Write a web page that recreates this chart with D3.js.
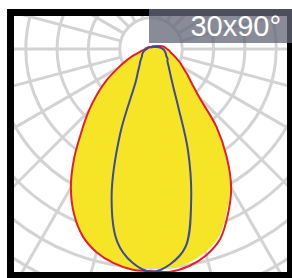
<!DOCTYPE html>
<html>
<head>
<meta charset="utf-8">
<script src="https://cdn.jsdelivr.net/npm/d3@7"></script>
<style>
    html, body { margin: 0; padding: 0; background: #fff; }
    svg { display: block; }
</style>
</head>
<body>
<div id="chart"></div>
<script>
// angles from nadir (deg), same for both half planes
const gammas = [0, 5, 10, 15, 20, 25, 30, 35, 40, 45, 50, 55, 60, 65, 70, 75, 80, 85, 90, 100, 110, 120, 135, 150, 165, 180];

// wide distribution (red outline, yellow fill)
const redLeft  = [710, 707, 694, 672, 637, 582, 512, 429, 346, 282, 224, 173, 122, 86, 58, 38, 29, 22, 19, 16, 13, 10, 8, 6, 6, 6];
const redRight = [710, 714, 704, 682, 646, 582, 512, 422, 326, 218, 170, 141, 118, 102, 86, 74, 64, 58, 51, 42, 29, 19, 13, 10, 6, 6];

// narrow distribution (blue)
const blueLeft  = [712, 685, 624, 486, 288, 115, 83, 64, 54, 45, 38, 35, 32, 29, 26, 22, 19, 16, 13, 11, 10, 10, 8, 6, 6, 6];
const blueRight = [712, 691, 640, 496, 346, 208, 144, 112, 93, 80, 70, 64, 61, 54, 51, 48, 45, 42, 38, 29, 19, 13, 10, 6, 6, 6];

// grid
const ringValues = [100, 200, 300, 400, 500, 600, 700, 800, 900];
const spokeAngles = [0, 15, 30, 45, 60, 75, 90, 105, 120, 135, 150, 165, 180, 195, 210, 225, 240, 255, 270, 285, 300, 315, 330, 345];

const beamLabel = "30x90°";

class PolarChart {
    constructor(_parentElement) {
        this.parentElement = _parentElement;
        this.initVis();
    }

    initVis() {
        const vis = this;

        vis.width = 292;
        vis.height = 278;
        vis.cx = 151;
        vis.cy = 49;

        vis.svg = d3.select(vis.parentElement).append("svg")
            .attr("width", vis.width)
            .attr("height", vis.height);

        vis.svg.append("clipPath")
            .attr("id", "frame-clip")
            .append("rect")
            .attr("x", 14).attr("y", 16)
            .attr("width", 273).attr("height", 256);

        vis.r = d3.scaleLinear()
            .domain([0, 100])
            .range([0, 31.3]);

        vis.plot = vis.svg.append("g")
            .attr("clip-path", "url(#frame-clip)")
            .append("g")
            .attr("transform", `translate(${vis.cx},${vis.cy})`);

        vis.drawGrid();
        vis.drawCurves();
        vis.drawFrame();
    }

    drawGrid() {
        const vis = this;
        const grid = vis.plot.append("g")
            .attr("fill", "none")
            .attr("stroke", "#d3d3d3")
            .attr("stroke-width", 3);

        grid.selectAll(".ring")
            .data(ringValues)
            .enter().append("circle")
            .attr("class", "ring")
            .attr("r", d => vis.r(d));

        const r0 = vis.r(ringValues[0]);
        const r1 = vis.r(ringValues[ringValues.length - 1]);
        grid.selectAll(".spoke")
            .data(spokeAngles)
            .enter().append("line")
            .attr("class", "spoke")
            .attr("x1", d => r0 * Math.sin(d * Math.PI / 180))
            .attr("y1", d => r0 * Math.cos(d * Math.PI / 180))
            .attr("x2", d => r1 * Math.sin(d * Math.PI / 180))
            .attr("y2", d => r1 * Math.cos(d * Math.PI / 180));
    }

    // build closed list of {a, v} from the two half planes
    curvePoints(left, right, k) {
        const pts = [];
        for (let i = gammas.length - 1; i >= 0; i--) {
            pts.push({ a: (180 - gammas[i]) * Math.PI / 180, v: right[i] * k });
        }
        for (let i = 1; i < gammas.length - 1; i++) {
            pts.push({ a: (180 + gammas[i]) * Math.PI / 180, v: left[i] });
        }
        return pts;
    }

    drawCurves() {
        const vis = this;

        const line = d3.lineRadial()
            .angle(d => d.a)
            .radius(d => vis.r(d.v))
            .curve(d3.curveCatmullRomClosed.alpha(0.5));

        vis.plot.append("path")
            .attr("d", line(vis.curvePoints(redLeft, redRight, 0.985)))
            .attr("fill", "#f6e526")
            .attr("stroke", "none");

        vis.plot.append("path")
            .attr("d", line(vis.curvePoints(redLeft, redRight, 1)))
            .attr("fill", "none")
            .attr("stroke", "#e61e2b")
            .attr("stroke-width", 2);

        vis.plot.append("path")
            .attr("d", line(vis.curvePoints(blueLeft, blueRight, 1)))
            .attr("fill", "none")
            .attr("stroke", "#3a4a9c")
            .attr("stroke-width", 2);
    }

    drawFrame() {
        const vis = this;

        vis.svg.append("rect")
            .attr("x", 10.5).attr("y", 12.5)
            .attr("width", 280).attr("height", 263)
            .attr("fill", "none")
            .attr("stroke", "#000")
            .attr("stroke-width", 7);

        vis.svg.append("rect")
            .attr("x", 149).attr("y", 9)
            .attr("width", 143).attr("height", 34)
            .attr("fill", "rgb(100,104,120)")
            .attr("fill-opacity", 0.76);

        vis.svg.append("text")
            .attr("x", 281).attr("y", 36)
            .attr("text-anchor", "end")
            .attr("fill", "#fff")
            .style("font-family", "'Liberation Sans', Arial, sans-serif")
            .style("font-size", "29px")
            .text(beamLabel);
    }
}

new PolarChart("#chart");
</script>
</body>
</html>
